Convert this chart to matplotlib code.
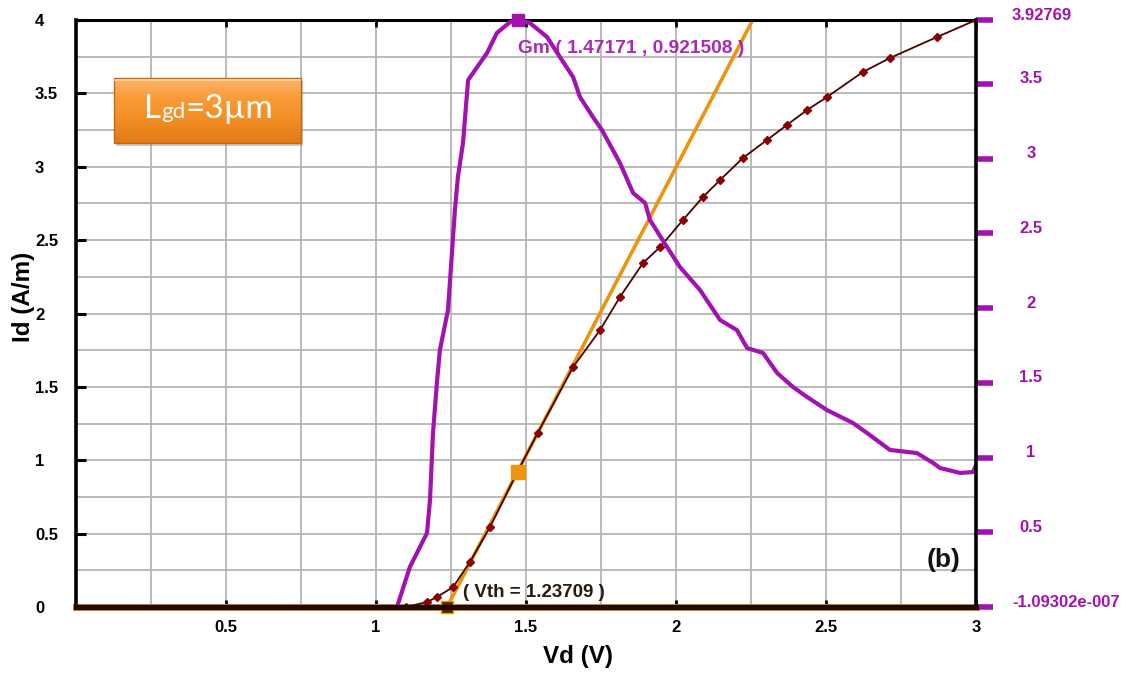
import numpy as np
import matplotlib
matplotlib.use('Agg')
import matplotlib.pyplot as plt
from matplotlib.transforms import blended_transform_factory, ScaledTranslation
from matplotlib.offsetbox import TextArea, HPacker, AnnotationBbox
from matplotlib.patches import FancyBboxPatch
from matplotlib.colors import LinearSegmentedColormap

plt.rcParams['font.family'] = ['Liberation Sans', 'DejaVu Sans']

# transfer characteristic, Lgd = 3 um
vd_id = [0.0, 1.10, 1.170, 1.203, 1.257, 1.313, 1.380, 1.4717, 1.539, 1.657, 1.747,
         1.813, 1.890, 1.947, 2.023, 2.090, 2.147, 2.223, 2.303, 2.370, 2.437,
         2.503, 2.623, 2.713, 2.870, 3.0]
id_am = [0.0, 0.0, 0.034, 0.068, 0.136, 0.307, 0.545, 0.9215, 1.186, 1.635, 1.888,
         2.112, 2.344, 2.453, 2.637, 2.794, 2.910, 3.060, 3.182, 3.285, 3.387,
         3.475, 3.646, 3.741, 3.884, 4.0]

# transconductance
vd_gm = [0.0, 1.07, 1.113, 1.170, 1.180, 1.190, 1.203, 1.213, 1.240, 1.263, 1.273,
         1.290, 1.307, 1.370, 1.403, 1.447, 1.47171, 1.513, 1.570, 1.613, 1.657,
         1.680, 1.723, 1.753, 1.813, 1.857, 1.897, 1.913, 1.970, 2.013, 2.080,
         2.147, 2.203, 2.237, 2.290, 2.337, 2.390, 2.437, 2.503, 2.590, 2.637,
         2.713, 2.803, 2.857, 2.880, 2.947, 2.990, 3.0]
gm = [0.0, 0.0, 0.268, 0.495, 0.716, 1.164, 1.499, 1.720, 1.987, 2.656, 2.877,
      3.105, 3.526, 3.707, 3.841, 3.914, 3.92769, 3.908, 3.814, 3.680, 3.546,
      3.412, 3.279, 3.192, 2.971, 2.770, 2.703, 2.590, 2.409, 2.275, 2.121,
      1.920, 1.853, 1.733, 1.700, 1.566, 1.472, 1.405, 1.318, 1.231, 1.164,
      1.051, 1.030, 0.964, 0.930, 0.897, 0.903, 0.950]

vth = 1.23709
vd_pk = 1.47171
id_pk = 0.921508
gm_max = 3.92769
gm_min = -1.09302e-007

x_ticks = [0.5, 1, 1.5, 2, 2.5, 3]
x_labels = ['0.5', '1', '1.5', '2', '2.5', '3']
y_ticks = [0, 0.5, 1, 1.5, 2, 2.5, 3, 3.5, 4]
y_labels = ['0', '0.5', '1', '1.5', '2', '2.5', '3', '3.5', '4']
gm_ticks = [gm_min, 0.5, 1, 1.5, 2, 2.5, 3, 3.5, gm_max]
gm_labels = ['-1.09302e-007', '0.5', '1', '1.5', '2', '2.5', '3', '3.5', '3.92769']

MAG = '#a212b0'
ORANGE = '#ec940e'
DARKRED = '#8a0000'

fig = plt.figure(figsize=(11.34, 6.78), dpi=100)
ax = fig.add_axes([0.0670, 0.1047, 0.7937, 0.8658])
ax2 = ax.twinx()

ax.set_xlim(0, 3)
ax.set_ylim(0, 4)
ax2.set_ylim(gm_min, gm_max)

# grid every 0.25
ax.set_xticks(np.arange(0, 3.01, 0.25), minor=True)
ax.set_yticks(np.arange(0, 4.01, 0.25), minor=True)
ax.grid(which='both', color='#b4b4b4', lw=1.3)
ax.set_axisbelow(True)

ax.set_xticks(x_ticks, labels=x_labels, fontweight='bold', fontsize=12)
ax.set_yticks(y_ticks, labels=y_labels, fontweight='bold', fontsize=12, ha='left')
ax.tick_params(which='minor', length=0)
ax.tick_params(axis='x', which='major', direction='in', length=5, width=2,
               top=True, bottom=True, pad=9)
ax.tick_params(axis='y', which='major', direction='in', length=7, width=2.2,
               pad=29.5)

for s in ('right', 'bottom'):
    ax.spines[s].set_visible(False)
ax.spines['left'].set_linewidth(2.6)
ax.spines['top'].set_linewidth(2.2)
for s in ('left', 'top'):
    ax2.spines[s].set_visible(False)
ax2.spines['right'].set_linewidth(2.6)
ax2.spines['bottom'].set_linewidth(3.6)
ax2.spines['bottom'].set_linestyle((0, (5, 0.5)))
ax2.spines['bottom'].set_color('#1a0a00')

# zero line under the dashed baseline
ax.axhline(0, color='#d07a10', lw=5, zorder=1.5, clip_on=False)

# tangent at max Gm -> threshold voltage
ax.axline((vth, 0), (vd_pk, id_pk), color=ORANGE, lw=2.6, zorder=2)
ax.plot(vd_id, id_am, color='#4a0000', lw=1.3, marker='D', ms=3.8,
        mfc=DARKRED, mec=DARKRED, zorder=3)
ax.plot([vd_pk], [id_pk], marker='s', ms=10, color=ORANGE, zorder=4)
ax.plot([vth], [0], marker='s', ms=8.5, mfc='#4a2208', mec=ORANGE, mew=1,
        zorder=6, clip_on=False)
ax.annotate('( Vth = 1.23709 )', xy=(vth, 0), xytext=(16, 15),
            textcoords='offset pixels', ha='left', va='center',
            fontsize=13.5, fontweight='bold', color='#2a1a08', zorder=6)

ax2.plot(vd_gm, gm, color=MAG, lw=3, solid_joinstyle='round', zorder=2)
ax2.plot([vd_pk], [gm_max], marker='s', ms=9, color=MAG, clip_on=False, zorder=3)
ax2.annotate('Gm ( 1.47171 , 0.921508 )', xy=(vd_pk, gm_max), xytext=(0, -28),
             textcoords='offset pixels', ha='left', va='center',
             fontsize=13.8, fontweight='bold', color=MAG, alpha=0.9)

ax2.set_yticks(gm_ticks)
ax2.tick_params(axis='y', direction='out', length=12, width=4, color=MAG,
                labelright=False)
ax2.tick_params(axis='x', length=0)
for v, s in zip(gm_ticks, gm_labels):
    if len(s) <= 3:
        dx, ha = 55, 'center'
    else:
        dx, ha = 36, 'left'
    tr = blended_transform_factory(ax2.transAxes, ax2.transData) + \
        ScaledTranslation(dx / 100, 5 / 100, fig.dpi_scale_trans)
    ax2.text(1, v, s, transform=tr, ha=ha, va='center', fontsize=12,
             fontweight='bold', color=MAG, clip_on=False)

ax.set_xlabel('Vd (V)', fontsize=17.5, fontweight='bold')
ax.xaxis.set_label_coords(0.558, -0.064)
ax.set_ylabel('Id (A/m)', fontsize=17.5, fontweight='bold')
ax.yaxis.set_label_coords(-0.046, 0.528)

ax.text(0.9644, 0.080, '(b)', transform=ax.transAxes, ha='center', va='center',
        fontsize=19, fontweight='bold', color='#111111')

# orange label box in pixel space
ov = fig.add_axes([0, 0, 1, 1], zorder=5)
ov.set_xlim(0, 1134)
ov.set_ylim(678, 0)
ov.axis('off')
bx, by, bw, bh = 114, 78, 187, 65
shadow = FancyBboxPatch((bx + 2, by + 3), bw, bh, boxstyle='square,pad=0',
                        fc='#8a8a8a', ec='none', alpha=0.45, zorder=1)
ov.add_patch(shadow)
box = FancyBboxPatch((bx, by), bw, bh, boxstyle='square,pad=0',
                     fc='none', ec='#c8670f', lw=1, zorder=3)
ov.add_patch(box)
cmap = LinearSegmentedColormap.from_list('bevel', ['#fcb46a', '#f89a34', '#f28d24', '#e07a16'])
grad = np.linspace(0, 1, 64).reshape(-1, 1)
im = ov.imshow(grad, cmap=cmap, extent=[bx, bx + bw, by + bh, by], aspect='auto',
               interpolation='bicubic', zorder=2)
im.set_clip_path(box)
# bevel highlight along the top edge
ov.plot([bx + 1, bx + bw - 1], [by + 1.5, by + 1.5], color='#ffd2a0', lw=1.2, zorder=3)

txt_props = dict(color='white', family=['Lato', 'Open Sans', 'DejaVu Sans'])
label = HPacker(children=[TextArea('L', textprops=dict(fontsize=24, **txt_props)),
                          TextArea('gd', textprops=dict(fontsize=16, **txt_props)),
                          TextArea('=3µm', textprops=dict(fontsize=24, **txt_props))],
                align='baseline', pad=0, sep=0)
ab = AnnotationBbox(label, (bx + bw / 2 + 1, by + bh / 2 - 1), frameon=False,
                    box_alignment=(0.5, 0.5))
ab.set_zorder(4)
ov.add_artist(ab)

fig.savefig('out.png', dpi=100, facecolor='white')
